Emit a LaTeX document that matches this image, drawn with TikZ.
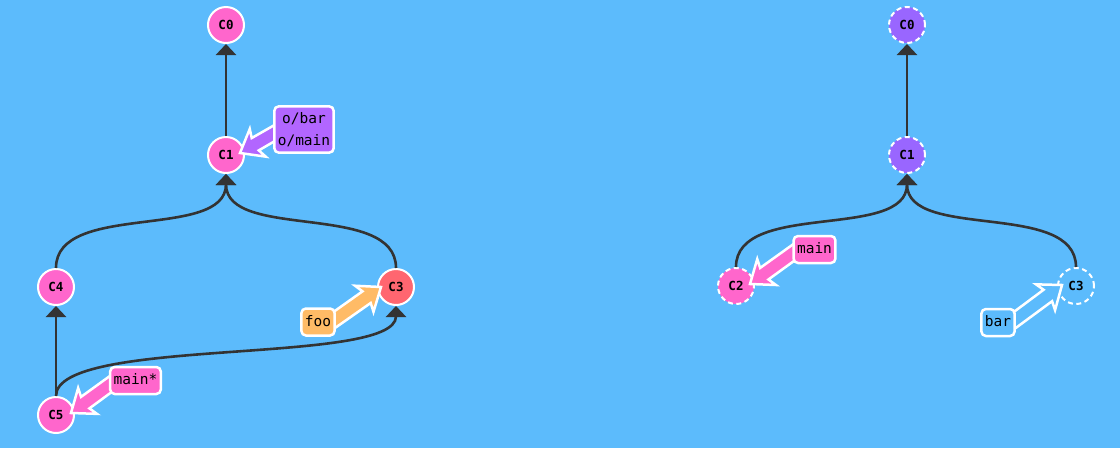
\documentclass[tikz,border=0pt]{standalone}
\usepackage{fontspec}
\newfontfamily\mono{DejaVu Sans Mono}
\usetikzlibrary{arrows.meta,calc}
\pgfdeclarelayer{back}
\pgfdeclarelayer{mid}
\pgfsetlayers{back,mid,main}
\definecolor{bg}{RGB}{92,187,252}
\definecolor{cpink}{RGB}{255,102,204}
\definecolor{cred}{RGB}{255,102,112}
\definecolor{cpurple}{RGB}{153,102,255}
\definecolor{lpurple}{RGB}{178,102,255}
\definecolor{corange}{RGB}{255,187,102}
\definecolor{edgec}{RGB}{51,51,51}
\newcommand\branchptr[3]{%
  \filldraw[ptr,#1] (#2) -- ($(#2)!26pt!38:(#3)$) -- ($(#2)!19pt!22:(#3)$)
   -- ($(#3)!7pt!-90:(#2)$) -- ($(#3)!7pt!90:(#2)$)
   -- ($(#2)!19pt!-22:(#3)$) -- ($(#2)!26pt!-38:(#3)$) -- cycle;}
\tikzset{
  commit/.style={circle, minimum size=36pt, inner sep=0pt, draw=white, line width=2pt,
    font=\mono\bfseries\fontsize{12.5}{12.5}\selectfont},
  ghost/.style={commit, dash pattern=on 5pt off 3.5pt},
  edge/.style={draw=edgec, line width=2.6pt, -{Triangle[width=20pt,length=11pt]}},
  ptr/.style={draw=white, line width=2.5pt, line join=miter},
  branch/.style={rounded corners=4.5pt, draw=white, line width=2.5pt,
    font=\mono\fontsize{14.5}{22}\selectfont, inner xsep=3.5pt, inner ysep=6pt, align=center},
  branch1/.style={branch, text height=11.5pt, text depth=3.5pt},
}
\begin{document}
\begin{tikzpicture}[x=1pt,y=-1pt]
\begin{pgfonlayer}{back}
\fill[bg] (0,0) rectangle (1120,448);
% left graph commits
\node[commit, fill=cpink] (c0) at (226,25) {C0};
\node[commit, fill=cpink] (c1) at (226,155) {C1};
\node[commit, fill=cpink] (c4) at (56,287) {C4};
\node[commit, fill=cred] (c3) at (396,287) {C3};
\node[commit, fill=cpink] (c5) at (56,415) {C5};
% right graph commits
\node[ghost, fill=cpurple] (r0) at (907,25) {C0};
\node[ghost, fill=cpurple] (r1) at (907,155) {C1};
\node[ghost, fill=cpink] (r2) at (736,286) {C2};
\node[ghost, fill=bg] (r3) at (1076,286) {C3};
% edges
\draw[edge] (c1) -- (c0);
\draw[edge] (c4.north) .. controls +(0,-67) and +(0,67) .. (c1.south);
\draw[edge] (c3.north) .. controls +(0,-67) and +(0,67) .. (c1.south);
\draw[edge] (c5) -- (c4);
\draw[edge] (c5.north) .. controls +(0,-60) and +(0,60) .. (c3.south);
\draw[edge] (r1) -- (r0);
\draw[edge] (r2.north) .. controls +(0,-67) and +(0,67) .. (r1.south);
\draw[edge] (r3.north) .. controls +(0,-67) and +(0,67) .. (r1.south);
\end{pgfonlayer}
\useasboundingbox (0,0) rectangle (1120,448);
% labels
\node[branch, fill=lpurple] (lo) at (304,129.5) {o/bar\\o/main};
\node[branch1, fill=corange] (lfoo) at (318,322) {foo};
\node[branch1, fill=cpink] (lmain) at (135.5,380.5) {main*};
\node[branch1, fill=cpink] (rmain) at (814.5,249.5) {main};
\node[branch1, fill=bg] (rbar) at (998,322.5) {bar};
% pointer coordinates
\coordinate (t1) at ($(c1)+(14,-2)$);
\coordinate (s1) at ($(lo.west)!0.25!(lo.center)$);
\coordinate (t5) at ($(c5)+(15,-2)$);
\coordinate (s5) at ($(lmain.west)!0.25!(lmain.center)$);
\coordinate (t3) at ($(c3)+(-15,0)$);
\coordinate (s3) at ($(lfoo.east)!0.25!(lfoo.center)$);
\coordinate (tr2) at ($(r2)+(14,-2)$);
\coordinate (sr2) at ($(rmain.west)!0.25!(rmain.center)$);
\coordinate (tr3) at ($(r3)+(-14,-1)$);
\coordinate (sr3) at ($(rbar.east)!0.25!(rbar.center)$);
\begin{pgfonlayer}{mid}
\branchptr{fill=lpurple}{t1}{s1}
\branchptr{fill=cpink}{t5}{s5}
\branchptr{fill=corange}{t3}{s3}
\branchptr{fill=cpink}{tr2}{sr2}
\branchptr{fill=bg}{tr3}{sr3}
\end{pgfonlayer}
\end{tikzpicture}
\end{document}
